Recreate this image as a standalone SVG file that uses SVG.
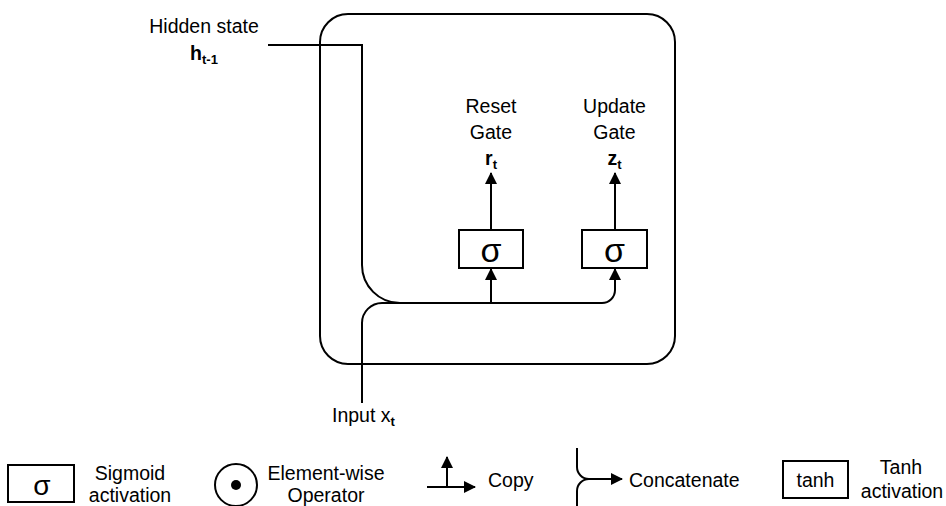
<svg xmlns="http://www.w3.org/2000/svg" width="946" height="506" viewBox="0 0 946 506">
  <defs>
    <marker id="arrow" markerUnits="userSpaceOnUse" markerWidth="12" markerHeight="12" viewBox="0 0 12 12" refX="11" refY="6" orient="auto">
      <path d="M0,0 L12,6 L0,12 z" fill="#000"/>
    </marker>
    <style>
      .line { fill: none; stroke: #000; stroke-width: 2; }
      .box { fill: #fff; stroke: #000; stroke-width: 2; }
      .lbl { font-family: "Liberation Sans", Arial, sans-serif; font-size: 19.5px; fill: #000; }
      .sub { font-size: 13px; font-weight: bold; }
      .sig { font-family: "Liberation Sans", Arial, sans-serif; fill: #000; }
    </style>
  </defs>
  <rect width="946" height="506" fill="#fff"/>

  <!-- GRU cell outline -->
  <g id="cell">
    <rect class="line" x="320" y="14" width="355" height="350" rx="28" ry="28"/>
  </g>

  <!-- signal paths -->
  <g id="connectors">
    <path class="line" d="M268,45 H362 V265 A38,38 0 0 0 400,303 H602 A13,13 0 0 0 615,290 V269" marker-end="url(#arrow)"/>
    <path class="line" d="M491,303 V269" marker-end="url(#arrow)"/>
    <path class="line" d="M362,403 V323 A20,20 0 0 1 382,303 H400"/>
    <path class="line" d="M491,230 V173" marker-end="url(#arrow)"/>
    <path class="line" d="M615,230 V173" marker-end="url(#arrow)"/>
  </g>

  <g id="hidden-state">
    <text class="lbl" x="204" y="33" text-anchor="middle">Hidden state</text>
    <text class="lbl" x="204" y="60" text-anchor="middle" font-weight="bold">h<tspan class="sub" dy="4">t-1</tspan></text>
  </g>

  <g id="input">
    <text class="lbl" x="332" y="422">Input x<tspan class="sub" dy="4">t</tspan></text>
  </g>

  <g id="reset-gate">
    <rect class="box" x="459" y="230" width="64" height="38"/>
    <text class="sig" x="491" y="262" font-size="34" text-anchor="middle">σ</text>
    <text class="lbl" x="491" y="113" text-anchor="middle">Reset</text>
    <text class="lbl" x="491" y="139" text-anchor="middle">Gate</text>
    <text class="lbl" x="491" y="165" text-anchor="middle" font-weight="bold">r<tspan class="sub" dy="4">t</tspan></text>
  </g>

  <g id="update-gate">
    <rect class="box" x="582" y="230" width="65" height="38"/>
    <text class="sig" x="614.5" y="262" font-size="34" text-anchor="middle">σ</text>
    <text class="lbl" x="614.5" y="113" text-anchor="middle">Update</text>
    <text class="lbl" x="614.5" y="139" text-anchor="middle">Gate</text>
    <text class="lbl" x="614.5" y="165" text-anchor="middle" font-weight="bold">z<tspan class="sub" dy="4">t</tspan></text>
  </g>

  <!-- legend -->
  <g id="legend-sigmoid">
    <rect class="box" x="8" y="465" width="66" height="37"/>
    <text class="sig" x="42" y="495" font-size="28" text-anchor="middle">σ</text>
    <text class="lbl" x="130" y="480" text-anchor="middle">Sigmoid</text>
    <text class="lbl" x="130" y="502" text-anchor="middle">activation</text>
  </g>
  <g id="legend-elementwise">
    <circle class="line" cx="236" cy="485" r="21"/>
    <circle cx="236" cy="485" r="5" fill="#000"/>
    <text class="lbl" x="326" y="480" text-anchor="middle">Element-wise</text>
    <text class="lbl" x="326" y="502" text-anchor="middle">Operator</text>
  </g>
  <g id="legend-copy">
    <path class="line" d="M427,487 H475" marker-end="url(#arrow)"/>
    <path class="line" d="M447,487 V457" marker-end="url(#arrow)"/>
    <text class="lbl" x="488" y="487">Copy</text>
  </g>
  <g id="legend-concatenate">
    <path class="line" d="M577,448 V467 A12,12 0 0 0 589,479 H622" marker-end="url(#arrow)"/>
    <path class="line" d="M577,506 V491 A12,12 0 0 1 589,479"/>
    <text class="lbl" x="629" y="487">Concatenate</text>
  </g>
  <g id="legend-tanh">
    <rect class="box" x="783" y="461" width="65" height="37"/>
    <text class="lbl" x="815.5" y="487" text-anchor="middle">tanh</text>
    <text class="lbl" x="901" y="474" text-anchor="middle">Tanh</text>
    <text class="lbl" x="902" y="498" text-anchor="middle">activation</text>
  </g>
</svg>
